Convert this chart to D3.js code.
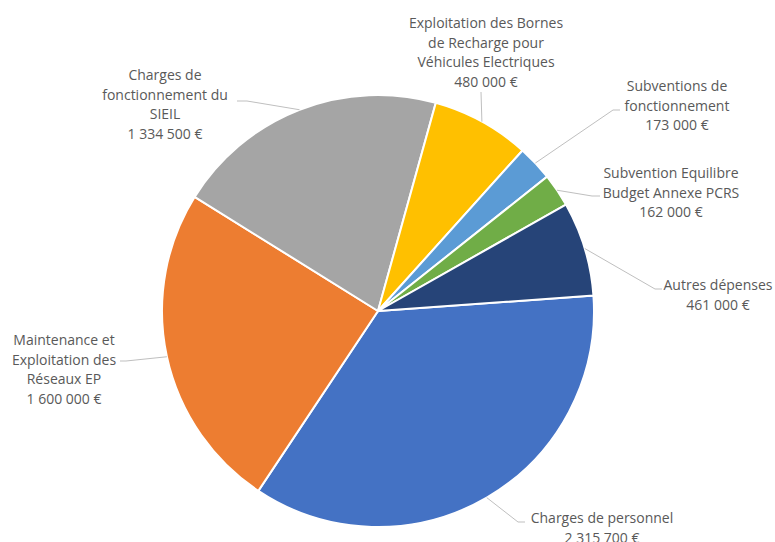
<!DOCTYPE html>
<html>
<head>
<meta charset="utf-8">
<script src="https://cdn.jsdelivr.net/npm/d3@7"></script>
<style>
  body { margin: 0; background: #fff; }
  svg { display: block; }
  text { font-family: "Open Sans", sans-serif; font-size: 14px; fill: #595959; }
</style>
</head>
<body>
<svg width="775" height="542"></svg>
<script>
// Données du graphique (ordre des parts, sens horaire)
const categories = [
  ["Charges de personnel"],
  ["Maintenance et", "Exploitation des", "Réseaux EP"],
  ["Charges de", "fonctionnement du", "SIEIL"],
  ["Exploitation des Bornes", "de Recharge pour", "Véhicules Electriques"],
  ["Subventions de", "fonctionnement"],
  ["Subvention Equilibre", "Budget Annexe PCRS"],
  ["Autres dépenses"]
];
const values = [2315700, 1600000, 1334500, 480000, 173000, 162000, 461000];
const valueLabels = ["2 315 700 €", "1 600 000 €", "1 334 500 €", "480 000 €", "173 000 €", "162 000 €", "461 000 €"];
const colors = ["#4472C4", "#ED7D31", "#A5A5A5", "#FFC000", "#5B9BD5", "#70AD47", "#264478"];

// Placement des étiquettes : centre du texte, coude et fin de la ligne de rappel
const labelPos = [
  { x: 602, y: 518, elbow: [518, 522], end: [525, 522] },
  { x: 64,  y: 340, elbow: [126, 361], end: [120, 361] },
  { x: 165, y: 75,  elbow: [247, 101], end: [237, 101] },
  { x: 486, y: 23,  elbow: null,       end: [481, 92] },
  { x: 677, y: 86,  elbow: [613, 110], end: [620, 110] },
  { x: 671, y: 173, elbow: [592, 196], end: [600, 196] },
  { x: 718, y: 285, elbow: [655, 289], end: [662, 289] }
];

const svg = d3.select("svg");
const cx = 378, cy = 311, radius = 216;
const start = 85.9 * Math.PI / 180;

const pie = d3.pie()
  .sort(null)
  .startAngle(start)
  .endAngle(start + 2 * Math.PI)
  .value(d => d);

const arcs = pie(values);
const arc = d3.arc().innerRadius(0).outerRadius(radius);

const g = svg.append("g").attr("transform", `translate(${cx},${cy})`);

// Parts du camembert
g.selectAll("path.slice")
  .data(arcs)
  .enter()
  .append("path")
  .attr("class", "slice")
  .attr("d", arc)
  .attr("fill", (d, i) => colors[i])
  .attr("stroke", "#fff")
  .attr("stroke-width", 2);

// Lignes de rappel depuis le milieu de l'arc
const line = d3.line();
svg.selectAll("path.leader")
  .data(arcs)
  .enter()
  .append("path")
  .attr("class", "leader")
  .attr("d", (d, i) => {
    const a = (d.startAngle + d.endAngle) / 2;
    const p0 = [cx + radius * Math.sin(a), cy - radius * Math.cos(a)];
    const lp = labelPos[i];
    const pts = lp.elbow ? [p0, lp.elbow, lp.end] : [p0, lp.end];
    return line(pts);
  })
  .attr("fill", "none")
  .attr("stroke", "#BFBFBF")
  .attr("stroke-width", 1);

// Étiquettes
const labels = svg.selectAll("text.label")
  .data(arcs)
  .enter()
  .append("text")
  .attr("class", "label")
  .attr("text-anchor", "middle")
  .attr("x", (d, i) => labelPos[i].x)
  .attr("y", (d, i) => labelPos[i].y);

labels.each(function(d, i) {
  const t = d3.select(this);
  const lines = categories[i].concat([valueLabels[i]]);
  lines.forEach((s, k) => {
    t.append("tspan")
      .attr("x", labelPos[i].x)
      .attr("dy", k === 0 ? "0.35em" : "19.6")
      .text(s);
  });
});
</script>
</body>
</html>
